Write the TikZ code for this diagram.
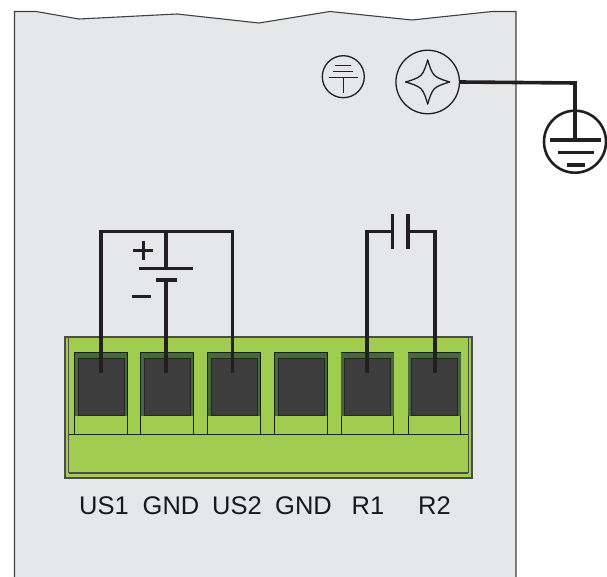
\documentclass[tikz,border=0pt]{standalone}
\usepackage{fontspec}
\setmainfont{Liberation Sans}
\definecolor{panelgray}{HTML}{E6E7E8}
\definecolor{blockgreen}{HTML}{A0CD50}
\definecolor{pocketgreen}{HTML}{46683A}
\definecolor{pindark}{HTML}{3D3D3E}
\definecolor{wireblack}{HTML}{231F20}
\tikzset{
  wire/.style={draw=wireblack,line width=3.3pt},
  symline/.style={draw=wireblack,line width=1.5pt},
  cellbox/.style={draw=black!85!blockgreen,line width=1pt,fill=blockgreen,inner sep=0pt,minimum width=52.5pt,minimum height=81.5pt},
  pocket/.style={fill=pocketgreen,inner sep=0pt,minimum width=52.5pt,minimum height=63.5pt},
  pinbox/.style={draw=black!85,line width=1pt,fill=pindark,inner sep=0pt,minimum width=46pt,minimum height=56.5pt},
  termlabel/.style={anchor=base,inner sep=0pt,text=black!90,font=\fontsize{25.5}{30}\selectfont}
}
\begin{document}
\begin{tikzpicture}[x=1pt,y=-1pt]
    \useasboundingbox (0,0) rectangle (607,577);

    % panel
    \fill[panelgray] (14.5,577) -- (14.5,11.5) -- (36,11.5) -- (79,19) -- (177,14) -- (259,23)
      -- (330,11.5) -- (412,20) -- (492,11.5) -- (516,11.5) -- (516,577) -- cycle;
    \draw[black!75,line width=1.1pt] (14.5,577) -- (14.5,11.5) -- (36,11.5) -- (79,19) -- (177,14) -- (259,23)
      -- (330,11.5) -- (412,20) -- (492,11.5) -- (516,11.5) -- (516,577);

    % terminal block
    \node[draw=black!70,line width=1.1pt,fill=blockgreen,inner sep=0pt,minimum width=407pt,minimum height=141pt] (block) at (268.5,407.5) {};
    \draw[black!70,line width=0.8pt] (68.5,337) -- (68.5,473);
    \draw[black!70,line width=0.8pt] (468,473) -- (468,337);
    \draw[black!70,line width=1.5pt] (68.5,473) -- (468,473);

    \foreach \n/\cx in {1/101,2/167,3/234,4/301,5/367.7,6/434.5} {
      \node[cellbox] (cell\n) at (\cx,393.25) {};
      \node[pocket] (pocket\n) at (\cx,384.25) {};
      \node[pinbox] (pin\n) at (\cx,386.75) {};
    }
    \draw[black!85,line width=1pt] (68.5,434) -- (468,434);

    % labels
    \node[termlabel] (lab1) at (104,514) {US1};
    \node[termlabel] (lab2) at (171,514) {GND};
    \node[termlabel] (lab3) at (237,514) {US2};
    \node[termlabel] (lab4) at (303.5,514) {GND};
    \node[termlabel] (lab5) at (368,514) {R1};
    \node[termlabel] (lab6) at (434.5,514) {R2};

    % wire ends on the pins
    \coordinate (end1) at (101,373);
    \coordinate (end2) at (166,373);
    \coordinate (end3) at (232.7,373);
    \coordinate (end5) at (367,373);
    \coordinate (end6) at (435,373);

    % supply
    \coordinate (platelong) at (166,268.7);
    \coordinate (plateshort) at (166,280);
    \draw[wire] (end1) -- (101,231.7) -- (232.7,231.7) -- (end3);
    \draw[wire] (166,231.7) -- (platelong);
    \draw[wire] (plateshort) -- (end2);
    \draw[wire] (139.3,268.7) -- (192.7,268.7);
    \draw[wire] (156,280) -- (177,280);
    \draw[wire,line width=2.8pt] (133.3,250.3) -- (153.3,250.3);
    \draw[wire,line width=2.8pt] (143.3,241) -- (143.3,260);
    \draw[wire,line width=2.8pt] (132,296.7) -- (151,296.7);

    % capacitor
    \coordinate (capl) at (392.7,231.7);
    \coordinate (capr) at (408,231.7);
    \draw[wire] (end5) -- (367,231.7) -- (capl);
    \draw[wire] (end6) -- (435,231.7) -- (capr);
    \draw[wire] (392.7,214) -- (392.7,249);
    \draw[wire] (408,214) -- (408,249);

    % chassis symbol
    \node[draw=wireblack,line width=1.3pt,circle,inner sep=0pt,minimum size=42pt] (chassis) at (343.3,76.7) {};
    \draw[symline] (335,65.3) -- (351,65.3);
    \draw[symline] (332.7,71.3) -- (353,71.3);
    \draw[symline] (329,77.7) -- (358,77.7);
    \draw[symline] (343.3,77.7) -- (343.3,93);

    % screw
    \node[draw=wireblack,line width=1.3pt,circle,inner sep=0pt,minimum size=63.5pt] (screw) at (427.7,82) {};
    \begin{scope}[shift={(427.7,82)}]
      \foreach \r in {0,90,180,270}
        \draw[draw=wireblack,line width=1.3pt,line cap=round,rotate=\r]
          (0,-22) .. controls (1.5,-17) and (3.5,-10) .. (6.7,-6.7)
          .. controls (10,-3.5) and (17,-1.5) .. (22,0);
    \end{scope}

    % earth
    \node[draw=wireblack,line width=2.6pt,fill=white,circle,inner sep=0pt,minimum size=62pt] (earth) at (575,141.7) {};
    \coordinate (bar1) at (575,140);
    \draw[wire,line width=3.6pt] (screw.east) -- (575,83) -- (bar1);
    \draw[wire,line width=3.6pt] (550,140) -- (601,140);
    \draw[wire,line width=3.6pt] (558,152.7) -- (594,152.7);
    \draw[wire,line width=3.6pt] (567,165.3) -- (585,165.3);
  \end{tikzpicture}
\end{document}
